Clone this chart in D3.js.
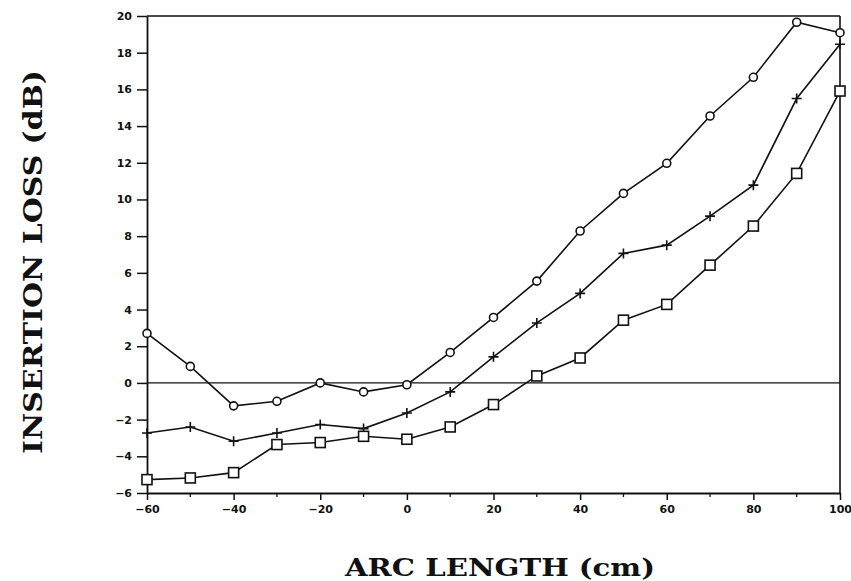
<!DOCTYPE html>
<html>
<head>
<meta charset="utf-8">
<script src="https://cdn.jsdelivr.net/npm/d3@7"></script>
<style>
  html, body { margin: 0; padding: 0; background: #fff; }
  svg { display: block; }
</style>
</head>
<body>
<svg id="chart" width="851" height="581"></svg>
<script>
// Arc length positions (cm)
const arcLength = [-60, -50, -40, -30, -20, -10, 0, 10, 20, 30, 40, 50, 60, 70, 80, 90, 100];

// Insertion loss (dB) for the three measured curves
const lossCircle = [2.7, 0.9, -1.25, -1.0, 0.0, -0.49, -0.1, 1.66, 3.57, 5.55, 8.28, 10.33, 11.97, 14.55, 16.66, 19.66, 19.09];
const lossPlus   = [-2.73, -2.4, -3.18, -2.73, -2.27, -2.49, -1.64, -0.49, 1.42, 3.27, 4.88, 7.06, 7.51, 9.09, 10.78, 15.5, 18.46];
const lossSquare = [-5.27, -5.18, -4.89, -3.36, -3.25, -2.91, -3.07, -2.4, -1.18, 0.38, 1.36, 3.42, 4.28, 6.42, 8.55, 11.42, 15.91];

// Axis ticks
const xTickLabels = [-60, -40, -20, 0, 20, 40, 60, 80, 100];
const xMinorTicks = [-50, -30, -10, 10, 30, 50, 70, 90];
const yTickLabels = [-6, -4, -2, 0, 2, 4, 6, 8, 10, 12, 14, 16, 18, 20];

const xTitle = "ARC LENGTH (cm)";
const yTitle = "INSERTION LOSS (dB)";

const svg = d3.select("#chart");
const ink = "#111";

const x = d3.scaleLinear().domain([-60, 100]).range([147, 840]);
const y = d3.scaleLinear().domain([-6, 20]).range([493, 16]);

// Top and right borders
const frame = svg.append("g").attr("stroke", ink).attr("fill", "none");
frame.append("line").attr("x1", x(-60)).attr("x2", x(100)).attr("y1", y(20)).attr("y2", y(20)).attr("stroke-width", 1.4);
frame.append("line").attr("x1", x(100)).attr("x2", x(100)).attr("y1", y(20)).attr("y2", y(-6)).attr("stroke-width", 1.6);

// Zero reference line
svg.append("line")
  .attr("x1", x(-60)).attr("x2", x(100))
  .attr("y1", y(0)).attr("y2", y(0))
  .attr("stroke", ink).attr("stroke-width", 1.4);

const minusFmt = d => d < 0 ? "\u2212" + Math.abs(d) : String(d);

// Bottom axis
const xAxis = d3.axisBottom(x)
  .tickValues(xTickLabels)
  .tickSize(7)
  .tickPadding(5)
  .tickSizeOuter(0)
  .tickFormat(minusFmt);
const gx = svg.append("g").attr("transform", `translate(0,${y(-6)})`).call(xAxis);
gx.select(".domain").attr("stroke", ink).attr("stroke-width", 1.8);
gx.selectAll(".tick line").attr("stroke", ink).attr("stroke-width", 1.5);
gx.selectAll(".tick text")
  .attr("fill", ink)
  .style("font-family", "'DejaVu Sans', sans-serif")
  .style("font-weight", "bold")
  .style("font-size", "11px");

// Minor ticks on the bottom axis
svg.append("g").selectAll("line").data(xMinorTicks).join("line")
  .attr("x1", d => x(d)).attr("x2", d => x(d))
  .attr("y1", y(-6)).attr("y2", y(-6) + 4)
  .attr("stroke", ink).attr("stroke-width", 1.3);

// Left axis
const yAxis = d3.axisLeft(y)
  .tickValues(yTickLabels)
  .tickSize(10)
  .tickPadding(5)
  .tickSizeOuter(0)
  .tickFormat(minusFmt);
const gy = svg.append("g").attr("transform", `translate(${x(-60)},0)`).call(yAxis);
gy.select(".domain").attr("stroke", ink).attr("stroke-width", 1.8);
gy.selectAll(".tick line").attr("stroke", ink).attr("stroke-width", 1.5);
gy.selectAll(".tick text")
  .attr("fill", ink)
  .style("font-family", "'DejaVu Sans', sans-serif")
  .style("font-weight", "bold")
  .style("font-size", "11px");

// Curves
const line = d3.line().x(d => x(d[0])).y(d => y(d[1]));
const seriesList = [
  { values: lossCircle, marker: "circle" },
  { values: lossPlus, marker: "plus" },
  { values: lossSquare, marker: "square" }
];

seriesList.forEach(s => {
  const pts = arcLength.map((a, i) => [a, s.values[i]]);
  svg.append("path")
    .datum(pts)
    .attr("d", line)
    .attr("fill", "none")
    .attr("stroke", ink)
    .attr("stroke-width", 1.6);

  const g = svg.append("g");
  if (s.marker === "circle") {
    g.selectAll("circle").data(pts).join("circle")
      .attr("cx", d => x(d[0])).attr("cy", d => y(d[1]))
      .attr("r", 4)
      .attr("fill", "#fff").attr("stroke", ink).attr("stroke-width", 1.6);
  } else if (s.marker === "square") {
    g.selectAll("rect").data(pts).join("rect")
      .attr("x", d => x(d[0]) - 5).attr("y", d => y(d[1]) - 5)
      .attr("width", 10).attr("height", 10)
      .attr("fill", "#fff").attr("stroke", ink).attr("stroke-width", 1.6);
  } else {
    g.selectAll("path").data(pts).join("path")
      .attr("d", d => {
        const cx = x(d[0]), cy = y(d[1]);
        return `M${cx - 5},${cy}H${cx + 5}M${cx},${cy - 5}V${cy + 5}`;
      })
      .attr("fill", "none").attr("stroke", ink).attr("stroke-width", 1.6);
  }
});

// Axis titles
svg.append("text")
  .attr("x", 500).attr("y", 576)
  .attr("text-anchor", "middle")
  .attr("textLength", 310).attr("lengthAdjust", "spacingAndGlyphs")
  .attr("fill", ink)
  .style("font-family", "'DejaVu Serif', serif")
  .style("font-weight", "bold")
  .style("font-size", "25px")
  .text(xTitle);

svg.append("text")
  .attr("transform", "translate(42,262) rotate(-90)")
  .attr("text-anchor", "middle")
  .attr("textLength", 384).attr("lengthAdjust", "spacingAndGlyphs")
  .attr("fill", ink)
  .style("font-family", "'DejaVu Serif', serif")
  .style("font-weight", "bold")
  .style("font-size", "26px")
  .text(yTitle);
</script>
</body>
</html>
